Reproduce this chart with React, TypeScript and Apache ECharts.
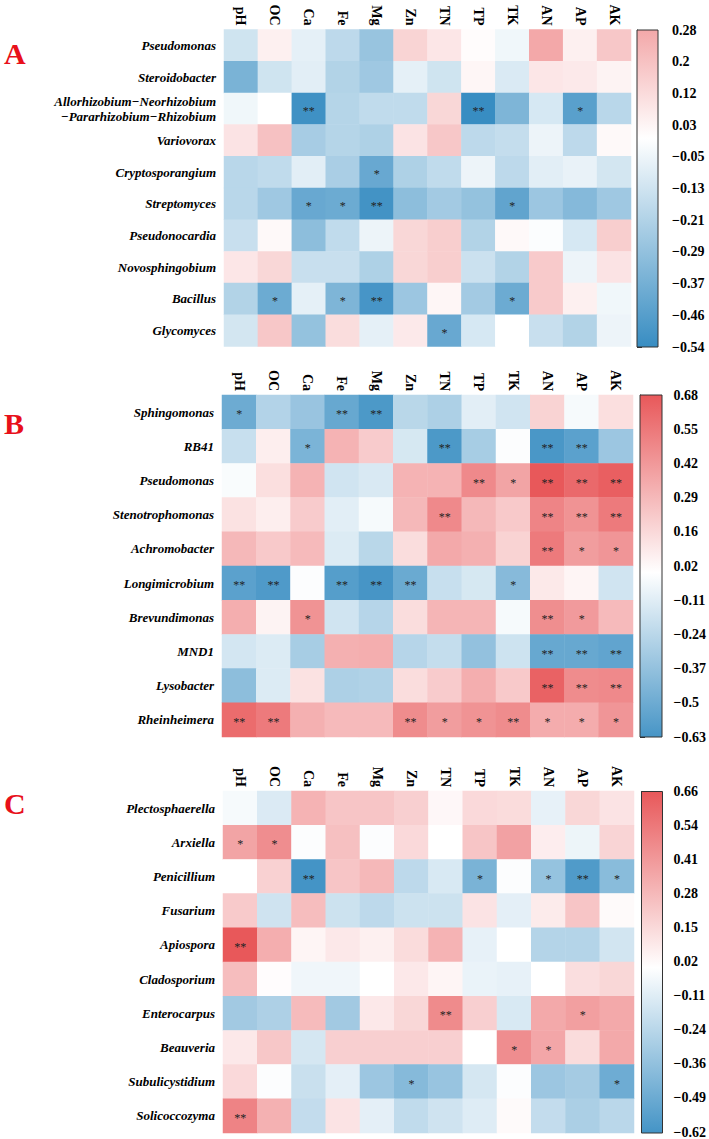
import React, { useEffect, useRef } from "react";
import * as echarts from "echarts";

const variables = ["pH", "OC", "Ca", "Fe", "Mg", "Zn", "TN", "TP", "TK", "AN", "AP", "AK"];

const generaA = [
  "Pseudomonas",
  "Steroidobacter",
  "Allorhizobium\u2212Neorhizobium\n\u2212Pararhizobium\u2212Rhizobium",
  "Variovorax",
  "Cryptosporangium",
  "Streptomyces",
  "Pseudonocardia",
  "Novosphingobium",
  "Bacillus",
  "Glycomyces",
];
const valuesA = [
  [-0.13, 0.05, -0.07, -0.18, -0.28, 0.14, 0.08, 0.01, -0.04, 0.28, 0.05, 0.18],
  [-0.36, -0.13, -0.08, -0.21, -0.26, -0.07, -0.13, 0.03, -0.1, 0.08, 0.07, 0.04],
  [-0.04, 0.0, -0.52, -0.2, -0.17, -0.17, 0.13, -0.54, -0.35, -0.11, -0.45, -0.19],
  [0.09, 0.2, -0.24, -0.2, -0.22, 0.09, 0.18, -0.18, -0.16, -0.05, -0.18, 0.02],
  [-0.19, -0.17, -0.08, -0.23, -0.41, -0.22, -0.17, -0.05, -0.18, -0.08, -0.06, -0.12],
  [-0.19, -0.26, -0.41, -0.4, -0.51, -0.31, -0.25, -0.29, -0.43, -0.27, -0.33, -0.26],
  [-0.15, 0.02, -0.31, -0.17, -0.05, 0.13, 0.16, -0.21, 0.02, -0.01, -0.11, 0.16],
  [0.08, 0.13, -0.15, -0.15, -0.22, 0.13, 0.16, -0.14, -0.21, 0.17, -0.05, 0.09],
  [-0.21, -0.4, -0.07, -0.35, -0.5, -0.27, 0.03, -0.25, -0.4, 0.17, 0.05, -0.04],
  [-0.12, 0.18, -0.29, 0.11, -0.07, 0.07, -0.41, -0.11, 0.0, -0.15, -0.21, -0.05],
];
const _ = "";
const starsA = [
  [_, _, _, _, _, _, _, _, _, _, _, _],
  [_, _, _, _, _, _, _, _, _, _, _, _],
  [_, _, "**", _, _, _, _, "**", _, _, "*", _],
  [_, _, _, _, _, _, _, _, _, _, _, _],
  [_, _, _, _, "*", _, _, _, _, _, _, _],
  [_, _, "*", "*", "**", _, _, _, "*", _, _, _],
  [_, _, _, _, _, _, _, _, _, _, _, _],
  [_, _, _, _, _, _, _, _, _, _, _, _],
  [_, "*", _, "*", "**", _, _, _, "*", _, _, _],
  [_, _, _, _, _, _, "*", _, _, _, _, _],
];
const ticksA = [-0.54, -0.46, -0.37, -0.29, -0.21, -0.13, -0.05, 0.03, 0.12, 0.2, 0.28];

const generaB = [
  "Sphingomonas",
  "RB41",
  "Pseudomonas",
  "Stenotrophomonas",
  "Achromobacter",
  "Longimicrobium",
  "Brevundimonas",
  "MND1",
  "Lysobacter",
  "Rheinheimera",
];
const valuesB = [
  [-0.5, -0.26, -0.35, -0.52, -0.61, -0.24, -0.28, -0.1, -0.16, 0.18, -0.03, 0.13],
  [-0.19, 0.07, -0.45, 0.31, 0.21, -0.14, -0.61, -0.3, -0.01, -0.62, -0.56, -0.34],
  [-0.02, 0.13, 0.31, -0.16, -0.13, 0.31, 0.31, 0.48, 0.37, 0.68, 0.61, 0.65],
  [0.12, 0.07, 0.21, -0.1, -0.03, 0.29, 0.48, 0.29, 0.22, 0.5, 0.44, 0.54],
  [0.29, 0.22, 0.28, -0.12, -0.24, 0.14, 0.35, 0.32, 0.18, 0.54, 0.4, 0.43],
  [-0.56, -0.6, -0.01, -0.58, -0.63, -0.51, -0.19, -0.14, -0.41, 0.09, 0.04, -0.16],
  [0.33, 0.05, 0.44, -0.16, -0.25, 0.14, 0.3, 0.3, -0.03, 0.46, 0.41, 0.28],
  [-0.15, -0.12, -0.3, 0.32, 0.33, -0.25, -0.2, -0.37, -0.17, -0.52, -0.52, -0.54],
  [-0.39, -0.12, 0.12, -0.28, -0.27, 0.14, 0.21, 0.33, 0.22, 0.64, 0.47, 0.48],
  [0.6, 0.54, 0.32, 0.28, 0.28, 0.47, 0.4, 0.44, 0.47, 0.34, 0.34, 0.43],
];
const starsB = [
  ["*", _, _, "**", "**", _, _, _, _, _, _, _],
  [_, _, "*", _, _, _, "**", _, _, "**", "**", _],
  [_, _, _, _, _, _, _, "**", "*", "**", "**", "**"],
  [_, _, _, _, _, _, "**", _, _, "**", "**", "**"],
  [_, _, _, _, _, _, _, _, _, "**", "*", "*"],
  ["**", "**", _, "**", "**", "**", _, _, "*", _, _, _],
  [_, _, "*", _, _, _, _, _, _, "**", "*", _],
  [_, _, _, _, _, _, _, _, _, "**", "**", "**"],
  [_, _, _, _, _, _, _, _, _, "**", "**", "**"],
  ["**", "**", _, _, _, "**", "*", "*", "**", "*", "*", "*"],
];
const ticksB = [-0.63, -0.5, -0.37, -0.24, -0.11, 0.02, 0.16, 0.29, 0.42, 0.55, 0.68];

const generaC = [
  "Plectosphaerella",
  "Arxiella",
  "Penicillium",
  "Fusarium",
  "Apiospora",
  "Cladosporium",
  "Enterocarpus",
  "Beauveria",
  "Subulicystidium",
  "Solicoccozyma",
];
const valuesC = [
  [-0.03, -0.12, 0.3, 0.23, 0.23, 0.19, 0.03, 0.15, 0.14, -0.08, 0.16, 0.11],
  [0.36, 0.45, -0.01, 0.25, -0.01, 0.15, 0.0, 0.23, 0.37, 0.07, -0.06, 0.17],
  [0.0, 0.18, -0.62, 0.23, 0.28, -0.22, -0.13, -0.44, -0.01, -0.35, -0.58, -0.39],
  [0.21, -0.16, 0.26, -0.17, -0.22, -0.17, -0.17, 0.11, -0.09, 0.08, 0.23, 0.02],
  [0.66, 0.32, 0.04, 0.09, 0.06, 0.14, 0.3, -0.08, 0.0, -0.25, -0.25, -0.15],
  [0.26, 0.01, -0.05, -0.05, 0.0, 0.09, 0.04, -0.07, -0.08, 0.0, 0.13, 0.16],
  [-0.31, -0.27, 0.27, -0.31, 0.09, 0.16, 0.46, 0.19, -0.13, 0.34, 0.38, 0.34],
  [0.09, 0.22, -0.14, 0.19, 0.19, 0.19, 0.19, 0.0, 0.45, 0.35, 0.14, 0.34],
  [0.15, -0.01, -0.18, -0.09, -0.33, -0.4, -0.34, -0.14, -0.01, -0.33, -0.3, -0.48],
  [0.49, 0.31, -0.2, 0.11, -0.09, -0.21, -0.16, -0.11, 0.02, -0.2, -0.28, -0.23],
];
const starsC = [
  [_, _, _, _, _, _, _, _, _, _, _, _],
  ["*", "*", _, _, _, _, _, _, _, _, _, _],
  [_, _, "**", _, _, _, _, "*", _, "*", "**", "*"],
  [_, _, _, _, _, _, _, _, _, _, _, _],
  ["**", _, _, _, _, _, _, _, _, _, _, _],
  [_, _, _, _, _, _, _, _, _, _, _, _],
  [_, _, _, _, _, _, "**", _, _, _, "*", _],
  [_, _, _, _, _, _, _, _, "*", "*", _, _],
  [_, _, _, _, _, "*", _, _, _, _, _, "*"],
  ["**", _, _, _, _, _, _, _, _, _, _, _],
];
const ticksC = [-0.62, -0.49, -0.36, -0.24, -0.11, 0.02, 0.15, 0.28, 0.41, 0.54, 0.66];

const BLUE = [56, 141, 194];
const RED = [232, 88, 90];
const SERIF = '"Liberation Serif", "Times New Roman", serif';

function mix(c: number[], t: number) {
  const r = Math.round(255 + (c[0] - 255) * t);
  const g = Math.round(255 + (c[1] - 255) * t);
  const b = Math.round(255 + (c[2] - 255) * t);
  return `rgb(${r},${g},${b})`;
}
function colorFor(v: number, M: number) {
  const t = Math.min(1, Math.abs(v) / M);
  return v < 0 ? mix(BLUE, t) : mix(RED, t);
}
function fmt(v: number) {
  return v < 0 ? "\u2212" + String(Math.abs(v)) : String(v);
}

const panels = [
  {
    letter: "A",
    genera: generaA,
    values: valuesA,
    stars: starsA,
    ticks: ticksA,
    grid: { left: 224, top: 29.5, width: 407, height: 317 },
    bar: { x: 637, y: 30, w: 21, h: 317 },
    letterY: 53.5,
  },
  {
    letter: "B",
    genera: generaB,
    values: valuesB,
    stars: starsB,
    ticks: ticksB,
    grid: { left: 222, top: 395, width: 411, height: 342 },
    bar: { x: 640, y: 395, w: 22, h: 342 },
    letterY: 423.5,
  },
  {
    letter: "C",
    genera: generaC,
    values: valuesC,
    stars: starsC,
    ticks: ticksC,
    grid: { left: 223, top: 791, width: 411, height: 342 },
    bar: { x: 641.5, y: 791.5, w: 21, h: 341.5 },
    letterY: 803,
  },
];

export default function App() {
  const ref = useRef<HTMLDivElement>(null);
  useEffect(() => {
    document.body.style.margin = "0";
    if (!ref.current) return;
    const chart = echarts.init(ref.current, undefined, { renderer: "svg" });

    const grids: any[] = [];
    const xAxes: any[] = [];
    const yAxes: any[] = [];
    const series: any[] = [];
    const visualMaps: any[] = [];
    const graphics: any[] = [];

    panels.forEach((p, i) => {
      const tmin = p.ticks[0];
      const tmax = p.ticks[p.ticks.length - 1];
      const M = Math.max(Math.abs(tmin), Math.abs(tmax));
      const data: any[] = [];
      const stars: string[] = [];
      p.values.forEach((row, r) =>
        row.forEach((v, c) => {
          data.push([c, r, v]);
          stars.push(p.stars[r][c]);
        })
      );

      grids.push({ left: p.grid.left, top: p.grid.top, width: p.grid.width, height: p.grid.height });
      xAxes.push({
        type: "category",
        gridIndex: 2 * i,
        data: variables,
        position: "top",
        axisLine: { show: false },
        axisTick: { show: false },
        splitLine: { show: false },
        axisLabel: {
          rotate: 90,
          margin: 4,
          color: "#000",
          fontFamily: SERIF,
          fontWeight: "bold",
          fontSize: 14,
          interval: 0,
        },
      });
      yAxes.push({
        type: "category",
        gridIndex: 2 * i,
        data: p.genera,
        inverse: true,
        axisLine: { show: false },
        axisTick: { show: false },
        splitLine: { show: false },
        axisLabel: {
          margin: 8,
          color: "#000",
          fontFamily: SERIF,
          fontWeight: "bold",
          fontStyle: "italic",
          fontSize: 13,
          lineHeight: 15,
          interval: 0,
        },
      });
      series.push({
        type: "heatmap",
        xAxisIndex: 2 * i,
        yAxisIndex: 2 * i,
        data,
        label: {
          show: true,
          formatter: (prm: any) => stars[prm.dataIndex] || "",
          color: "#222",
          fontSize: 12,
          fontFamily: SERIF,
          offset: [0, 2],
        },
        emphasis: { disabled: true },
      });
      visualMaps.push({
        type: "continuous",
        show: false,
        seriesIndex: 2 * i,
        dimension: 2,
        min: -M,
        max: M,
        inRange: { color: [mix(BLUE, 1), "#ffffff", mix(RED, 1)] },
      });

      grids.push({ left: p.bar.x, top: p.bar.y, width: p.bar.w, height: p.bar.h });
      xAxes.push({ type: "value", gridIndex: 2 * i + 1, show: false });
      yAxes.push({
        type: "category",
        gridIndex: 2 * i + 1,
        data: p.ticks.map(fmt),
        boundaryGap: false,
        position: "right",
        axisLine: { show: true, lineStyle: { color: "#333", width: 1 } },
        axisTick: { show: true, length: 5, lineStyle: { color: "#333" } },
        splitLine: { show: false },
        axisLabel: {
          margin: 14,
          color: "#000",
          fontFamily: SERIF,
          fontWeight: "bold",
          fontSize: 14,
          interval: 0,
        },
      });
      series.push({
        type: "line",
        xAxisIndex: 2 * i + 1,
        yAxisIndex: 2 * i + 1,
        data: [],
        silent: true,
      });
      const zeroOff = tmax / (tmax - tmin);
      graphics.push({
        type: "rect",
        shape: { x: p.bar.x, y: p.bar.y, width: p.bar.w, height: p.bar.h },
        style: {
          fill: new echarts.graphic.LinearGradient(0, 0, 0, 1, [
            { offset: 0, color: colorFor(tmax, M) },
            { offset: Math.max(0, Math.min(1, zeroOff)), color: "#ffffff" },
            { offset: 1, color: colorFor(tmin, M) },
          ]),
          stroke: "#333",
          lineWidth: 1,
        },
        z: 10,
      });
      graphics.push({
        type: "text",
        x: 4,
        y: p.letterY,
        style: {
          text: p.letter,
          fill: "#e8101a",
          font: `bold 30px ${SERIF}`,
          textAlign: "left",
          textVerticalAlign: "middle",
        },
      });
    });

    chart.setOption({
      animation: false,
      backgroundColor: "#ffffff",
      grid: grids,
      xAxis: xAxes,
      yAxis: yAxes,
      visualMap: visualMaps,
      series,
      graphic: graphics,
    });
    return () => chart.dispose();
  }, []);
  return <div ref={ref} style={{ width: 709, height: 1139 }} />;
}
